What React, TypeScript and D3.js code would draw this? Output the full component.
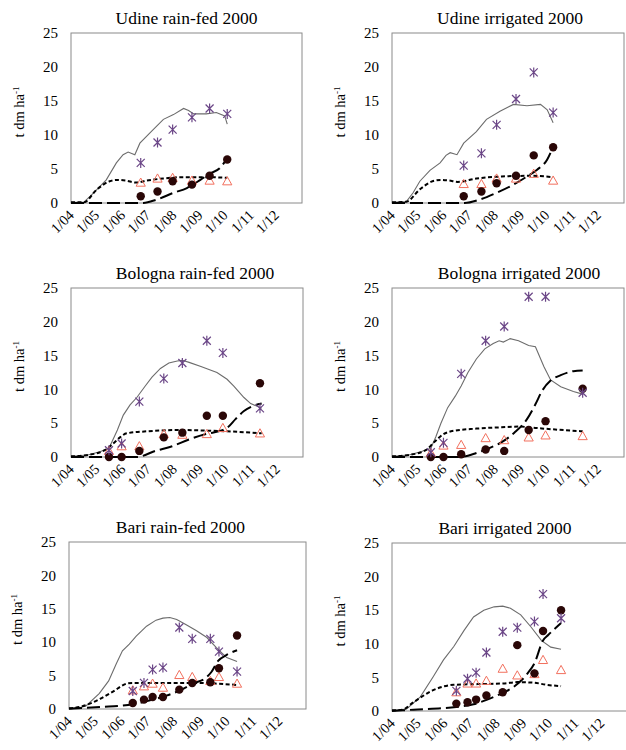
import React from "react";
import * as d3 from "d3";

// days after 1 April 2000; biomass in t dm ha-1
// obs = measured, sim = model output
const udineRfObsDays = [83, 103, 121, 144, 165, 186];
const udineRfObsTotal = [5.9, 8.9, 10.8, 12.6, 13.9, 13.1];
const udineRfObsLeaf = [3.0, 3.6, 3.7, 3.3, 3.3, 3.2];
const udineRfObsStorage = [1.0, 1.7, 3.2, 2.7, 4.0, 6.4];
const udineRfSimTotal = [[0, 0.1], [15, 0.1], [23, 1.0], [31, 2.0], [42, 3.4], [54, 5.9], [62, 7.1], [68, 7.5], [76, 7.1], [82, 8.8], [94, 10.3], [102, 11.3], [110, 12.3], [122, 13.0], [134, 13.9], [140, 13.6], [146, 13.1], [161, 13.1], [173, 13.3], [183, 12.8], [186, 11.6]];
const udineRfSimLeaf = [[0, 0.1], [15, 0.1], [31, 2.0], [46, 3.2], [55, 3.4], [65, 3.3], [78, 3.0], [90, 3.3], [110, 3.6], [134, 3.8], [161, 3.8], [186, 3.7]];
const udineRfSimStorage = [[0, 0], [86, 0], [102, 0.5], [122, 1.5], [138, 2.2], [154, 3.4], [165, 4.3], [177, 5.1], [186, 6.6]];

const udineIrObsDays = [85, 106, 124, 147, 168, 191];
const udineIrObsTotal = [5.5, 7.3, 11.5, 15.3, 19.2, 13.3];
const udineIrObsLeaf = [2.8, 2.8, 3.6, 3.6, 4.3, 3.3];
const udineIrObsStorage = [1.0, 1.7, 2.9, 4.0, 7.0, 8.2];
const udineIrSimTotal = [[0, 0.1], [17, 0.2], [25, 1.5], [33, 3.2], [45, 4.8], [57, 5.9], [64, 7.0], [69, 7.4], [77, 7.1], [85, 8.8], [100, 10.5], [112, 12.3], [128, 13.5], [144, 14.5], [160, 14.3], [176, 14.5], [184, 13.7], [191, 11.8]];
const udineIrSimLeaf = [[0, 0.1], [17, 0.2], [33, 2.0], [48, 3.2], [58, 3.4], [68, 3.3], [78, 3.1], [100, 3.6], [130, 3.9], [165, 4.0], [191, 3.8]];
const udineIrSimStorage = [[0, 0], [86, 0], [104, 0.5], [124, 1.5], [144, 2.7], [160, 3.9], [172, 4.9], [184, 6.4], [191, 8.3]];

const bolognaRfObsDays = [45, 60, 81, 110, 132, 161, 180, 224];
const bolognaRfObsTotal = [1.0, 2.0, 8.2, 11.6, 13.9, 17.2, 15.4, 7.2];
const bolognaRfObsLeaf = [0.9, 1.6, 1.6, 3.4, 3.3, 3.4, 4.3, 3.5];
const bolognaRfObsStorage = [0, 0, 0.9, 2.9, 3.6, 6.1, 6.1, 10.9];
const bolognaRfSimTotal = [[0, 0.1], [20, 0.3], [35, 0.8], [45, 1.3], [55, 4.0], [62, 6.2], [70, 7.7], [78, 8.8], [88, 10.5], [96, 11.8], [106, 13.1], [116, 13.9], [126, 14.2], [132, 14.3], [140, 14.0], [154, 13.4], [173, 12.5], [185, 11.5], [193, 10.5], [205, 8.8], [213, 7.9], [226, 7.2]];
const bolognaRfSimLeaf = [[0, 0.1], [20, 0.3], [40, 1.0], [50, 2.0], [58, 2.9], [66, 3.5], [90, 3.8], [130, 4.0], [160, 3.9], [185, 3.8], [226, 3.5]];
const bolognaRfSimStorage = [[0, 0], [78, 0], [100, 0.9], [120, 1.6], [140, 2.6], [160, 3.4], [175, 3.8], [185, 4.3], [195, 5.6], [205, 6.8], [215, 7.5], [226, 7.9]];

const bolognaIrObsDays = [46, 61, 82, 111, 133, 162, 182, 226];
const bolognaIrObsTotal = [0.7, 2.1, 12.3, 17.2, 19.3, 23.7, 23.7, 9.5];
const bolognaIrObsLeaf = [0.6, 1.7, 1.8, 2.8, 2.5, 2.9, 3.2, 3.1];
const bolognaIrObsStorage = [0, 0, 0.4, 1.1, 0.9, 4.0, 5.3, 10.1];
const bolognaIrSimTotal = [[0, 0.1], [20, 0.3], [35, 0.8], [46, 1.3], [52, 3.0], [58, 5.0], [66, 7.3], [75, 9.0], [82, 10.5], [90, 12.5], [100, 14.5], [110, 16.0], [120, 16.8], [127, 17.2], [132, 17.0], [140, 17.5], [150, 17.2], [162, 16.5], [170, 16.3], [180, 13.4], [188, 11.4], [200, 10.4], [215, 9.7], [226, 9.3]];
const bolognaIrSimLeaf = [[0, 0.1], [20, 0.3], [40, 1.0], [50, 2.2], [60, 3.3], [70, 3.8], [100, 4.2], [130, 4.4], [150, 4.5], [170, 4.3], [190, 4.1], [226, 3.8]];
const bolognaIrSimStorage = [[0, 0], [80, 0], [100, 0.6], [115, 1.3], [130, 2.2], [145, 3.6], [160, 5.6], [170, 7.8], [178, 9.8], [188, 11.3], [200, 12.1], [215, 12.7], [226, 12.8]];

const bariRfObsDays = [74, 87, 97, 109, 128, 143, 164, 174, 195];
const bariRfObsTotal = [2.7, 3.9, 5.9, 6.2, 12.2, 10.5, 10.5, 8.6, 5.6];
const bariRfObsLeaf = [2.8, 3.4, 3.8, 3.2, 5.1, 4.8, 4.2, 4.8, 3.8];
const bariRfObsStorage = [0.9, 1.4, 1.8, 1.8, 2.9, 3.9, 4.0, 6.1, 11.0];
const bariRfSimTotal = [[0, 0.1], [12, 0.2], [20, 0.5], [35, 2.3], [46, 4.2], [55, 6.8], [62, 8.7], [70, 9.7], [78, 10.9], [90, 12.4], [101, 13.3], [109, 13.6], [117, 13.7], [125, 13.4], [136, 12.6], [148, 11.7], [160, 10.7], [171, 9.2], [183, 7.7], [195, 7.1]];
const bariRfSimLeaf = [[0, 0.1], [12, 0.3], [36, 1.5], [51, 2.6], [67, 3.8], [74, 3.9], [110, 3.9], [150, 3.9], [170, 3.8], [195, 3.6]];
const bariRfSimStorage = [[0, 0.05], [36, 0.3], [74, 0.7], [94, 1.3], [113, 2.0], [129, 2.8], [144, 3.8], [160, 4.8], [165, 5.5], [173, 7.2], [183, 8.1], [195, 8.8]];

const bariIrObsDays = [75, 88, 98, 110, 129, 146, 166, 176, 197];
const bariIrObsTotal = [3.0, 4.8, 5.7, 8.7, 11.8, 12.4, 13.3, 17.4, 13.8];
const bariIrObsLeaf = [2.8, 4.1, 4.1, 4.5, 6.3, 5.3, 5.5, 7.6, 6.1];
const bariIrObsStorage = [1.1, 1.3, 1.7, 2.3, 2.8, 9.8, 5.6, 11.9, 15.0];
const bariIrSimTotal = [[0, 0.1], [12, 0.2], [17, 0.3], [33, 2.1], [48, 5.1], [60, 7.6], [72, 9.6], [84, 12.0], [95, 14.0], [107, 15.0], [119, 15.5], [129, 15.6], [138, 15.3], [150, 14.3], [162, 12.5], [174, 10.5], [185, 9.5], [197, 9.2]];
const bariIrSimLeaf = [[0, 0.1], [12, 0.2], [25, 1.3], [48, 3.1], [72, 3.9], [100, 4.0], [130, 4.1], [146, 4.3], [166, 4.2], [180, 3.9], [197, 3.7]];
const bariIrSimStorage = [[0, 0], [25, 0.2], [75, 0.6], [95, 1.0], [111, 1.7], [129, 2.7], [142, 3.6], [158, 5.6], [166, 7.1], [176, 10.5], [182, 11.3], [197, 13.1]];

const yTicks = [0, 5, 10, 15, 20, 25];
const yLabel = "t dm ha";

const panels = [
  { title: "Udine rain-fed 2000", days: udineRfObsDays, total: udineRfObsTotal, leaf: udineRfObsLeaf, storage: udineRfObsStorage, simTotal: udineRfSimTotal, simLeaf: udineRfSimLeaf, simStorage: udineRfSimStorage },
  { title: "Udine irrigated 2000", days: udineIrObsDays, total: udineIrObsTotal, leaf: udineIrObsLeaf, storage: udineIrObsStorage, simTotal: udineIrSimTotal, simLeaf: udineIrSimLeaf, simStorage: udineIrSimStorage },
  { title: "Bologna rain-fed 2000", days: bolognaRfObsDays, total: bolognaRfObsTotal, leaf: bolognaRfObsLeaf, storage: bolognaRfObsStorage, simTotal: bolognaRfSimTotal, simLeaf: bolognaRfSimLeaf, simStorage: bolognaRfSimStorage },
  { title: "Bologna irrigated 2000", days: bolognaIrObsDays, total: bolognaIrObsTotal, leaf: bolognaIrObsLeaf, storage: bolognaIrObsStorage, simTotal: bolognaIrSimTotal, simLeaf: bolognaIrSimLeaf, simStorage: bolognaIrSimStorage },
  { title: "Bari rain-fed 2000", days: bariRfObsDays, total: bariRfObsTotal, leaf: bariRfObsLeaf, storage: bariRfObsStorage, simTotal: bariRfSimTotal, simLeaf: bariRfSimLeaf, simStorage: bariRfSimStorage },
  { title: "Bari irrigated 2000", days: bariIrObsDays, total: bariIrObsTotal, leaf: bariIrObsLeaf, storage: bariIrObsStorage, simTotal: bariIrSimTotal, simLeaf: bariIrSimLeaf, simStorage: bariIrSimStorage },
];

// where each plot box sits on the page
const boxes = [
  { x: 71, y: 33, w: 231, h: 170, tdx: 0 },
  { x: 392, y: 33, w: 232, h: 170, tdx: 2 },
  { x: 71, y: 288, w: 232, h: 169, tdx: 8 },
  { x: 392, y: 288, w: 232, h: 169, tdx: 11 },
  { x: 69, y: 542, w: 237, h: 167, tdx: -7 },
  { x: 392, y: 543, w: 236, h: 168, tdx: -5 },
];

const FONT = "'Liberation Serif', 'Times New Roman', serif";
const start = new Date(2000, 3, 1);
const end = new Date(2001, 0, 1);
const toDate = (d: number) => d3.timeDay.offset(start, d);
const monthTicks = d3.timeMonth.range(start, new Date(2000, 11, 2));
const fmt = d3.timeFormat("1/%m");

const starPath = "M-4,-4L4,4M-4,4L4,-4M0,-5V5";
const triPath = "M0,-4.6L4.6,3.6L-4.6,3.6Z";

const Panel = ({ p, b }: any) => {
  const x = d3.scaleTime().domain([start, end]).range([0, b.w]);
  const y = d3.scaleLinear().domain([0, 25]).range([b.h, 0]);
  const solid = d3.line<number[]>().x(d => x(toDate(d[0]))).y(d => y(d[1]));
  const smooth = d3.line<number[]>().x(d => x(toDate(d[0]))).y(d => y(d[1])).curve(d3.curveMonotoneX);

  return (
    <g transform={`translate(${b.x},${b.y})`} fontFamily={FONT}>
      <text x={b.w / 2 + b.tdx} y={-9} textAnchor="middle" fontSize={17.5} fill="#000">{p.title}</text>
      <rect x={0} y={0} width={b.w} height={b.h} fill="none" stroke="#8a8a8a" strokeWidth={1} />
      {yTicks.map(t => (
        <text key={t} x={-13} y={y(t)} dy="0.35em" textAnchor="end" fontSize={15} fill="#000">{t}</text>
      ))}
      <text transform={`translate(${-47},${b.h / 2 - 6}) rotate(-90)`} textAnchor="middle" fontSize={14.5} fill="#000">
        {yLabel}<tspan fontSize={9} dy={-5}>-1</tspan>
      </text>
      {monthTicks.map(m => (
        <text key={+m} transform={`translate(${x(m) + 4},${b.h + 13}) rotate(-45)`} textAnchor="end" fontSize={14.5} fill="#000">{fmt(m)}</text>
      ))}
      <path d={solid(p.simTotal) || ""} fill="none" stroke="#6c6c6c" strokeWidth={1.1} />
      <path d={smooth(p.simLeaf) || ""} fill="none" stroke="#000" strokeWidth={2} strokeDasharray="4 2.5" />
      <path d={smooth(p.simStorage) || ""} fill="none" stroke="#000" strokeWidth={2} strokeDasharray="13 5" />
      {p.days.map((d: number, i: number) => (
        <path key={"l" + i} d={triPath} transform={`translate(${x(toDate(d))},${y(p.leaf[i])})`} fill="none" stroke="#f2705e" strokeWidth={1} />
      ))}
      {p.days.map((d: number, i: number) => (
        <circle key={"s" + i} cx={x(toDate(d))} cy={y(p.storage[i])} r={4.2} fill="#2a0707" />
      ))}
      {p.days.map((d: number, i: number) => (
        <path key={"t" + i} d={starPath} transform={`translate(${x(toDate(d))},${y(p.total[i])})`} fill="none" stroke="#6b4687" strokeWidth={1.2} />
      ))}
    </g>
  );
};

export default function App() {
  return (
    <svg width={626} height={750} style={{ position: "absolute", left: 0, top: 0, background: "#fff" }}>
      <rect width={626} height={750} fill="#fff" />
      {panels.map((p, i) => <Panel key={p.title} p={p} b={boxes[i]} />)}
    </svg>
  );
}
